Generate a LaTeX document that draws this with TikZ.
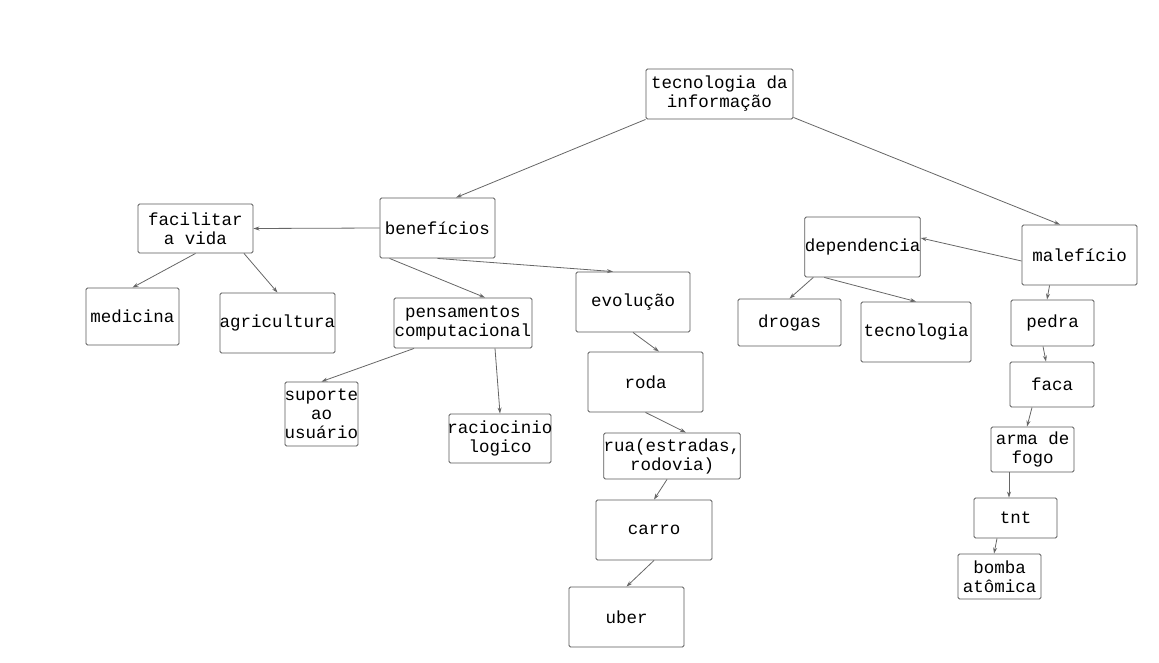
\documentclass[tikz,border=0pt]{standalone}
\usepackage{fontspec}
\newfontfamily\mapfont{Liberation Mono}
\usetikzlibrary{arrows.meta}
\begin{document}
\begin{tikzpicture}[x=1pt,y=-1pt]
              % Define styles for boxes and links
              \tikzset{
                concept node/.style={draw=black!65, rounded corners=1.5pt, line width=0.9pt, inner sep=0pt, align=center,
                  font={\mapfont\fontsize{17.5}{19}\selectfont}},
                link arrow/.style={draw=black!60, line width=0.8pt, -{Stealth[length=6pt,width=4pt]}}
              }
              \useasboundingbox (0,0) rectangle (1159,663);

              % Top
              \node[concept node, minimum width=147, minimum height=50] (ti) at (719.5,94) {tecnologia da\\informação};

              % Benefits side
              \node[concept node, minimum width=115, minimum height=60] (ben) at (437.5,228) {benefícios};
              \node[concept node, minimum width=115, minimum height=49] (fac) at (195.5,228.5) {facilitar\\a vida};
              \node[concept node, minimum width=93, minimum height=57] (med) at (132.5,316.5) {medicina};
              \node[concept node, minimum width=115, minimum height=60] (agr) at (277.5,323) {\makebox[0pt]{agricultura}};
              \node[concept node, minimum width=138, minimum height=50] (pen) at (463,323) {pensamentos\\computacional};
              \node[concept node, minimum width=73, minimum height=64] (sup) at (321.5,414) {\makebox[0pt]{suporte}\\ao\\\makebox[0pt]{usuário}};
              \node[concept node, minimum width=102, minimum height=49] (rac) at (500,438.5) {\makebox[0pt]{raciocinio}\\logico};
              \node[concept node, minimum width=114, minimum height=60] (evo) at (633,302) {evolução};
              \node[concept node, minimum width=115, minimum height=60] (roda) at (645.5,382) {roda};
              \node[concept node, minimum width=136, minimum height=46] (rua) at (672,456) {rua(estradas,\\rodovia)};
              \node[concept node, minimum width=116, minimum height=60] (carro) at (654,530) {carro};
              \node[concept node, minimum width=115, minimum height=60] (uber) at (626.5,617) {uber};

              % Harms side
              \node[concept node, minimum width=115, minimum height=60] (mal) at (1079.5,255) {malefício};
              \node[concept node, minimum width=115, minimum height=60] (dep) at (862.5,247) {dependencia};
              \node[concept node, minimum width=103, minimum height=47] (drogas) at (789.5,322.5) {drogas};
              \node[concept node, minimum width=110, minimum height=60] (tec) at (916,332) {tecnologia};
              \node[concept node, minimum width=83, minimum height=46] (pedra) at (1052.5,323) {pedra};
              \node[concept node, minimum width=84, minimum height=45] (faca) at (1052,384.5) {faca};
              \node[concept node, minimum width=83, minimum height=45] (arma) at (1032.5,449.5) {arma de\\fogo};
              \node[concept node, minimum width=83, minimum height=40] (tnt) at (1015.5,518) {tnt};
              \node[concept node, minimum width=83, minimum height=45] (bomba) at (999.5,576.5) {bomba\\atômica};

              % Links
              \draw[link arrow] (ti.south west) -- ([xshift=18.5]ben.north);
              \draw[link arrow] ([yshift=2]ti.south east) -- ([xshift=-19.5]mal.north);
              \draw[link arrow] (ben.west) -- (fac.east);
              \draw[link arrow] ([xshift=10]ben.south west) -- ([xshift=22]pen.north);
              \draw[link arrow] (ben.south) -- ([xshift=-20]evo.north);
              \draw[link arrow] (fac.south) -- (med.north);
              \draw[link arrow] ([xshift=48.5]fac.south) -- (agr.north);
              \draw[link arrow] ([xshift=-49]pen.south) -- (sup.north);
              \draw[link arrow] ([xshift=32]pen.south) -- (rac.north);
              \draw[link arrow] (evo.south) -- ([xshift=13.5]roda.north);
              \draw[link arrow] (roda.south) -- ([xshift=14]rua.north);
              \draw[link arrow] ([xshift=-5]rua.south) -- (carro.north);
              \draw[link arrow] (carro.south) -- (uber.north);
              \draw[link arrow] ([yshift=-6]mal.west) -- ([yshift=9]dep.east);
              \draw[link arrow] ([xshift=9]dep.south west) -- (drogas.north);
              \draw[link arrow] ([xshift=20]dep.south west) -- (tec.north);
              \draw[link arrow] ([xshift=28]mal.south west) -- ([xshift=-5.5]pedra.north);
              \draw[link arrow] ([xshift=-9.5]pedra.south) -- ([xshift=-6]faca.north);
              \draw[link arrow] ([xshift=-20]faca.south) -- ([xshift=-5.5]arma.north);
              \draw[link arrow] ([xshift=-23.5]arma.south) -- ([xshift=-6.5]tnt.north);
              \draw[link arrow] ([xshift=-18.5]tnt.south) -- ([xshift=-5.5]bomba.north);
            \end{tikzpicture}
\end{document}
